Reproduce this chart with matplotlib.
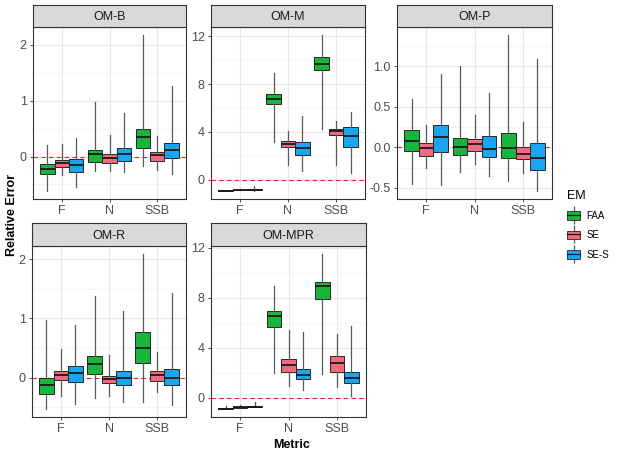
import matplotlib
matplotlib.use("Agg")
import matplotlib.pyplot as plt
from matplotlib.patches import Patch
from matplotlib.lines import Line2D
from matplotlib.legend_handler import HandlerTuple

plt.rcParams['font.family'] = ['Liberation Sans', 'DejaVu Sans']

metrics = ["F", "N", "SSB"]
ems = ["FAA", "SE", "SE-S"]
em_colors = ["#19B43C", "#F06A80", "#1AA5EE"]
panels = ["OM-B", "OM-M", "OM-P", "OM-R", "OM-MPR"]

# each box: [whisker low, q1, median, q3, whisker high]; order F(FAA,SE,SE-S), N(...), SSB(...)
om_b = [
    [-0.62, -0.32, -0.22, -0.14, 0.20], [-0.33, -0.19, -0.11, -0.07, 0.23], [-0.54, -0.27, -0.15, -0.05, 0.33],
    [-0.26, -0.10, 0.05, 0.12, 0.98], [-0.25, -0.12, -0.02, 0.05, 0.39], [-0.28, -0.08, 0.04, 0.15, 0.78],
    [-0.17, 0.15, 0.35, 0.49, 2.18], [-0.24, -0.08, 0.02, 0.08, 0.37], [-0.32, -0.03, 0.11, 0.24, 1.26],
]
om_m = [
    [-0.95, -0.93, -0.91, -0.89, -0.85], [-0.88, -0.85, -0.83, -0.81, -0.75], [-0.90, -0.85, -0.82, -0.79, -0.50],
    [3.13, 6.29, 6.73, 7.18, 8.95], [1.22, 2.72, 2.99, 3.22, 4.10], [0.72, 2.08, 2.66, 3.13, 5.29],
    [4.24, 9.15, 9.67, 10.23, 12.11], [1.22, 3.77, 4.05, 4.21, 4.88], [0.58, 2.77, 3.69, 4.38, 5.65],
]
om_p = [
    [-0.45, -0.05, 0.08, 0.21, 0.60], [-0.25, -0.10, -0.01, 0.05, 0.28], [-0.46, -0.06, 0.13, 0.28, 0.91],
    [-0.30, -0.09, 0.01, 0.12, 1.01], [-0.20, -0.04, 0.04, 0.10, 0.40], [-0.35, -0.12, -0.02, 0.14, 0.67],
    [-0.42, -0.13, -0.01, 0.18, 1.39], [-0.32, -0.14, -0.08, 0.00, 0.32], [-0.54, -0.28, -0.13, 0.05, 1.09],
]
om_r = [
    [-0.53, -0.27, -0.13, 0.00, 0.98], [-0.30, -0.03, 0.04, 0.12, 0.48], [-0.45, -0.07, 0.08, 0.20, 0.89],
    [-0.34, 0.07, 0.23, 0.36, 1.38], [-0.30, -0.09, -0.02, 0.03, 0.38], [-0.41, -0.12, 0.00, 0.11, 1.13],
    [-0.41, 0.25, 0.50, 0.77, 2.09], [-0.24, -0.05, 0.04, 0.11, 0.43], [-0.46, -0.13, -0.01, 0.15, 1.43],
]
om_mpr = [
    [-0.90, -0.87, -0.85, -0.83, -0.65], [-0.80, -0.77, -0.74, -0.72, -0.60], [-0.75, -0.72, -0.69, -0.66, -0.30],
    [1.99, 5.64, 6.52, 6.97, 8.95], [0.95, 2.07, 2.65, 3.13, 5.43], [0.61, 1.48, 1.85, 2.33, 5.25],
    [1.91, 7.92, 8.95, 9.30, 11.52], [0.90, 2.04, 2.78, 3.39, 5.14], [0.16, 1.19, 1.62, 2.07, 5.77],
]
panel_data = [om_b, om_m, om_p, om_r, om_mpr]
y_breaks = [[0, 1, 2], [0, 4, 8, 12], [-0.5, 0.0, 0.5, 1.0], [0, 1, 2], [0, 4, 8, 12]]
y_labels = [["0", "1", "2"], ["0", "4", "8", "12"], ["-0.5", "0.0", "0.5", "1.0"],
            ["0", "1", "2"], ["0", "4", "8", "12"]]

W, H = 624, 457
fig = plt.figure(figsize=(W / 100, H / 100), dpi=100)

# pixel boxes (left, right, strip_top, panel_top, panel_bottom)
boxes = [
    (33, 186, 5, 27, 199),
    (211, 365, 5, 27, 199),
    (397, 552, 5, 27, 199),
    (32, 186, 223, 246, 417),
    (211, 366, 223, 246, 417),
]

def fx(px):
    return px / W

def fy(py):
    return 1 - py / H

grey_txt = "#4D4D4D"
bw = 0.3
offs = [-0.3, 0.0, 0.3]

for k, (name, data) in enumerate(zip(panels, panel_data)):
    l, r, st, pt, pb = boxes[k]
    ax = fig.add_axes([fx(l), fy(pb), (r - l) / W, (pb - pt) / H])
    sax = fig.add_axes([fx(l), fy(pt), (r - l) / W, (pt - st) / H])
    sax.set_facecolor("#D9D9D9")
    sax.set_xticks([]); sax.set_yticks([])
    for s in sax.spines.values():
        s.set_color("#333333"); s.set_linewidth(0.8)
    sax.text(0.5, 0.45, name, ha="center", va="center", fontsize=9, color="#1A1A1A",
             transform=sax.transAxes)

    vals_all = [v for b in data for v in b] + [0]
    lo, hi = min(vals_all), max(vals_all)
    pad = 0.05 * (hi - lo)
    ax.set_ylim(lo - pad, hi + pad)
    ax.set_xlim(0.4, 3.6)

    # grid
    br = y_breaks[k]
    step = br[1] - br[0]
    minors = [b + step / 2 for b in [br[0] - step] + br]
    ylo, yhi = ax.get_ylim()
    for m in minors:
        if ylo < m < yhi:
            ax.axhline(m, color="#F2F2F2", lw=0.5, zorder=0)
    for b in br:
        ax.axhline(b, color="#E8E8E8", lw=0.9, zorder=0)
    for xi in range(1, 4):
        ax.axvline(xi, color="#E8E8E8", lw=0.9, zorder=0)

    ax.axhline(0, color="#E8251F", lw=0.8, ls=(0, (4, 3)), zorder=1)

    for mi in range(3):
        for ei in range(3):
            b = data[mi * 3 + ei]
            stats = [dict(whislo=b[0], q1=b[1], med=b[2], q3=b[3], whishi=b[4], fliers=[])]
            ax.bxp(stats, positions=[mi + 1 + offs[ei]], widths=bw, patch_artist=True,
                   showcaps=False, showfliers=False, manage_ticks=False,
                   boxprops=dict(facecolor=em_colors[ei], edgecolor="#262626", lw=0.7),
                   whiskerprops=dict(color="#595959", lw=0.9),
                   medianprops=dict(color="#1A1A1A", lw=1.3), zorder=2)

    ax.set_xticks([1, 2, 3])
    ax.set_xticklabels(metrics)
    ax.set_yticks(br)
    ax.set_yticklabels(y_labels[k])
    ax.tick_params(axis="both", labelsize=9, labelcolor=grey_txt, color="#333333",
                   length=2.5, width=0.6, pad=2)
    for s in ax.spines.values():
        s.set_color("#333333"); s.set_linewidth(0.8)

fig.text(fx(12), fy(215), "Relative Error", rotation=90, ha="center", va="center",
         fontsize=9, fontweight="bold", color="black")
fig.text(fx(292), fy(445), "Metric", ha="center", va="center",
         fontsize=9, fontweight="bold", color="black")

handles = []
for c in em_colors:
    whisk = Line2D([], [], marker="|", markersize=13, color="#595959", ls="", mew=0.9)
    box = Patch(facecolor=c, edgecolor="#262626", lw=0.6)
    med = Line2D([], [], color="#1A1A1A", lw=0.9)
    handles.append((whisk, box, med))
leg = fig.legend(handles, ems, title="EM", loc="upper left",
                 bbox_to_anchor=(fx(560), fy(183)), frameon=False,
                 fontsize=7, title_fontsize=9, handlelength=1.4, handleheight=1.0,
                 labelspacing=0.95, handletextpad=0.6, borderpad=0.2,
                 handler_map={tuple: HandlerTuple(ndivide=1, pad=0)})
leg._legend_box.align = "left"

fig.savefig("out.png", dpi=100)
